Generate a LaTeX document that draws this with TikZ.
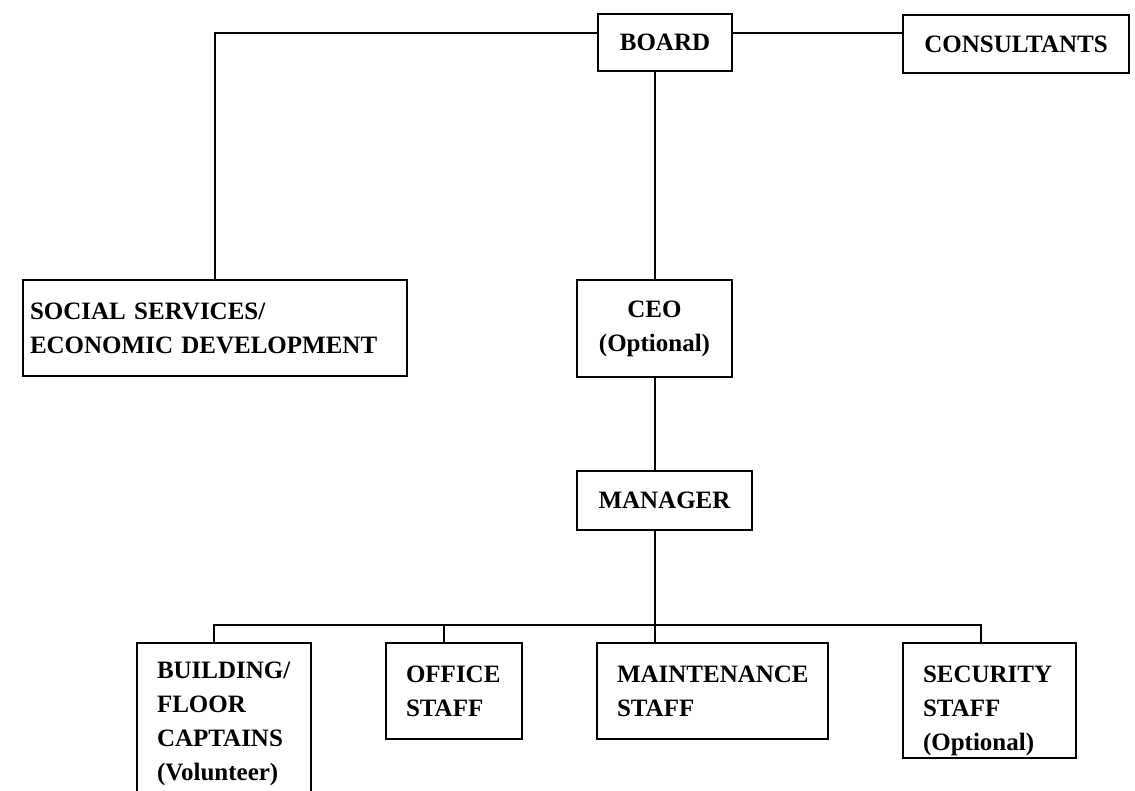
\documentclass[tikz,border=0pt]{standalone}
\usepackage{fontspec}
\setmainfont{Liberation Serif}
\begin{document}
\begin{tikzpicture}[x=1pt,y=-1pt,
  box/.style={draw, line width=2pt, rectangle, inner ysep=0pt,
    font=\fontsize{25}{34}\selectfont\bfseries},
  cbox/.style={box, align=center, inner xsep=0pt},
  lbox/.style={box, align=left, inner xsep=20pt},
  link/.style={line width=2pt}]
\useasboundingbox (0,0) rectangle (1135,790);
\clip (0,0) rectangle (1135,790);
% boxes
\node[cbox, minimum width=134pt, minimum height=57pt] (board) at (665,42.5) {BOARD};
\node[cbox, minimum width=226pt, minimum height=58pt] (consultants) at (1016,44) {CONSULTANTS};
\node[lbox, inner xsep=7pt, text width=370pt, minimum height=96pt] (social) at (215,328) {SOCIAL SERVICES/\\ECONOMIC DEVELOPMENT};
\node[cbox, minimum width=155pt, minimum height=97pt] (ceo) at (654.5,328.5) {CEO\\(Optional)};
\node[cbox, minimum width=175pt, minimum height=59pt] (manager) at (664.5,500.5) {MANAGER};
\node[lbox, text width=134pt, minimum height=162pt] (building) at (224,724) {BUILDING/\\FLOOR\\CAPTAINS\\(Volunteer)};
\node[lbox, text width=96pt, minimum height=96pt] (office) at (454,691) {OFFICE\\STAFF};
\node[lbox, text width=191pt, minimum height=96pt] (maint) at (712.5,691) {MAINTENANCE\\STAFF};
\node[lbox, text width=133pt, minimum height=115pt] (security) at (989.5,700.5) {\rule{0pt}{38pt}SECURITY\\STAFF\\(Optional)};
% helper coordinates
\coordinate (toprow) at (0,33);
\coordinate (spine) at (655,0);
\coordinate (busL) at (214,625);
\coordinate (busO) at (444,625);
\coordinate (busR) at (981,625);
% connectors
\draw[link] (board.west |- toprow) -| (social.north);
\draw[link] (board.east |- toprow) -- (consultants.west |- toprow);
\draw[link] (board.south -| spine) -- (ceo.north -| spine);
\draw[link] (ceo.south -| spine) -- (manager.north -| spine);
\draw[link] (manager.south -| spine) -- (maint.north -| spine);
\draw[link] (building.north -| busL) -- (busL) -- (busR) -- (security.north -| busR);
\draw[link] (busO) -- (office.north -| busO);
\end{tikzpicture}
\end{document}
